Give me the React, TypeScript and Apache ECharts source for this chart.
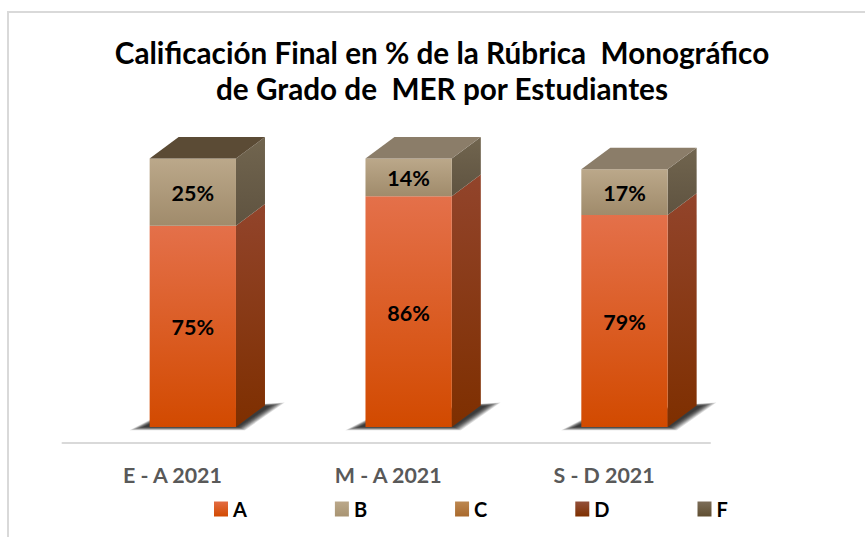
import React, { useEffect, useRef } from "react";
import * as echarts from "echarts";

const titleLines = ["Calificación Final en % de la Rúbrica  Monográfico", "de Grado de  MER por Estudiantes"];
const categories = ["E - A 2021", "M - A 2021", "S - D 2021"];
const seriesNames = ["A", "B", "C", "D", "F"];
const valuesA = [75, 86, 79];
const valuesB = [25, 14, 17];
const valuesC = [0, 0, 0];
const valuesD = [0, 0, 0];
const valuesF = [0, 0, 0];
const allValues = [valuesA, valuesB, valuesC, valuesD, valuesF];
// Which series shows on the lid of each bar (the first bar's lid belongs to the empty F series).
const lidSeries = ["F", "B", "B"];

const FONT = "Lato, Carlito, sans-serif";
const DEPTH_X = 29;
const DEPTH_Y = 21.6;
const OFFSET_X = 22.4;
const OFFSET_Y = 16;
const BAR_RATIO = 0.4;

const grad = (a: string, b: string) =>
  new echarts.graphic.LinearGradient(0, 0, 0, 1, [
    { offset: 0, color: a },
    { offset: 1, color: b },
  ]);

const skin: Record<string, { front: [string, string]; side: [string, string]; lid: string; legend: [string, string] }> = {
  A: { front: ["#E4704A", "#D24A00"], side: ["#92442B", "#7E2F00"], lid: "#8F4128", legend: ["#E36C43", "#D24A00"] },
  B: { front: ["#BBA88A", "#A08B6B"], side: ["#71654F", "#5F5340"], lid: "#8B7D69", legend: ["#BBA88A", "#A89472"] },
  C: { front: ["#BC8750", "#A9692C"], side: ["#7B552F", "#6B4218"], lid: "#8A6238", legend: ["#BC8750", "#A9692C"] },
  D: { front: ["#93503A", "#7E2F00"], side: ["#6A3320", "#5A2000"], lid: "#6A3320", legend: ["#93503A", "#7E2F00"] },
  F: { front: ["#7C6D58", "#5F4E31"], side: ["#6F6250", "#5F5340"], lid: "#5B4B35", legend: ["#7C6D58", "#5F4E31"] },
};

export default function App() {
  const ref = useRef<HTMLDivElement>(null);

  useEffect(() => {
    const chart = echarts.init(ref.current!, undefined, { renderer: "svg" });

    const floorShadow = {
      type: "custom",
      silent: true,
      legendHoverLink: false,
      z: 1,
      data: categories.map((_, i) => [i, 0]),
      encode: { x: 0, y: 1 },
      renderItem: (_p: any, api: any) => {
        const c = api.coord([api.value(0), 0]);
        const w = api.size([1, 0])[0] * BAR_RATIO;
        const x0 = c[0] + OFFSET_X - w / 2;
        const x1 = x0 + w;
        const y0 = c[1] - OFFSET_Y;
        const layers: any[] = [];
        for (let s = 7; s >= 0; s--) {
          const t = (7 - s) / 7;
          layers.push({
            type: "polygon",
            shape: {
              points: [
                [x0 - 6 - s * 2, y0 + s * 0.45],
                [x1 + 2 + s, y0 + s * 0.45],
                [x1 + 34 + s * 2.1, y0 - 21 - s * 0.5],
                [x1 + 26, y0 - 21 - s * 0.3],
                [x0 + 6, y0 - 6 - s * 0.6],
              ],
            },
            style: { fill: "#2a2a2a", opacity: 0.16 + t * 0.2 },
          });
        }
        return { type: "group", children: layers };
      },
    };

    const makeSeries = (name: string, si: number) => ({
      type: "custom",
      name,
      z: 2 + si,
      itemStyle: { color: grad(skin[name].legend[0], skin[name].legend[1]) },
      data: categories.map((_, ci) => {
        let base = 0;
        for (let k = 0; k < si; k++) base += allValues[k][ci];
        return [ci, base, allValues[si][ci]];
      }),
      encode: { x: 0, y: 1 },
      renderItem: (_p: any, api: any) => {
        const ci = api.value(0);
        const base = api.value(1);
        const v = api.value(2);
        const lower = api.coord([ci, base]);
        const upper = api.coord([ci, base + v]);
        const w = api.size([1, 0])[0] * BAR_RATIO;
        const x0 = lower[0] + OFFSET_X - w / 2;
        const x1 = x0 + w;
        const yb = lower[1] - OFFSET_Y;
        const yt = upper[1] - OFFSET_Y;
        const s = skin[name];
        const children: any[] = [];
        if (v > 0) {
          children.push({
            type: "polygon",
            shape: {
              points: [
                [x1, yt],
                [x1 + DEPTH_X, yt - DEPTH_Y],
                [x1 + DEPTH_X, yb - DEPTH_Y],
                [x1, yb],
              ],
            },
            style: { fill: grad(s.side[0], s.side[1]) },
          });
          children.push({
            type: "rect",
            shape: { x: x0, y: yt, width: w, height: yb - yt },
            style: { fill: grad(s.front[0], s.front[1]) },
          });
          children.push({
            type: "text",
            z2: 10,
            style: {
              text: `${v}%`,
              x: (x0 + x1) / 2,
              y: (yt + yb) / 2 + 1,
              align: "center",
              verticalAlign: "middle",
              fill: "#000",
              font: `bold 21.5px ${FONT}`,
            },
          });
        }
        if (lidSeries[ci] === name) {
          children.push({
            type: "polygon",
            shape: {
              points: [
                [x0, yt],
                [x1, yt],
                [x1 + DEPTH_X, yt - DEPTH_Y],
                [x0 + DEPTH_X, yt - DEPTH_Y],
              ],
            },
            style: { fill: s.lid },
          });
        }
        return { type: "group", children };
      },
    });

    chart.setOption({
      animation: false,
      backgroundColor: "#fff",
      graphic: [
        { type: "line", shape: { x1: 8, y1: 12, x2: 8, y2: 537 }, style: { stroke: "#D9D9D9", lineWidth: 2 } },
        { type: "line", shape: { x1: 7, y1: 12, x2: 865, y2: 12 }, style: { stroke: "#D9D9D9", lineWidth: 2 } },
        {
          type: "text",
          style: {
            text: titleLines.join("\n"),
            x: 442,
            y: 34,
            align: "center",
            verticalAlign: "top",
            lineHeight: 36,
            fill: "#000",
            font: `bold 29.7px ${FONT}`,
          },
        },
      ],
      legend: {
        data: seriesNames,
        left: 214,
        top: 499,
        padding: 0,
        itemWidth: 14,
        itemHeight: 15,
        itemGap: 88,
        icon: "rect",
        selectedMode: false,
        textStyle: { color: "#000", fontFamily: FONT, fontWeight: "bold", fontSize: 20, width: 20, padding: [0, 0, 0, 0] },
      },
      grid: { left: 62.5, right: 155, top: 174.6, bottom: 95 },
      xAxis: {
        type: "category",
        data: categories,
        axisTick: { show: false },
        axisLine: { show: true, lineStyle: { color: "#D9D9D9", width: 2 } },
        axisLabel: { color: "#595959", fontFamily: FONT, fontWeight: "bold", fontSize: 21.4, margin: 21, padding: [0, 0, 0, 4] },
      },
      yAxis: { type: "value", min: 0, max: 100, show: false },
      series: [floorShadow, ...seriesNames.map(makeSeries)],
    });

    return () => chart.dispose();
  }, []);

  return <div ref={ref} style={{ position: "fixed", left: 0, top: 0, width: 865, height: 538 }} />;
}
